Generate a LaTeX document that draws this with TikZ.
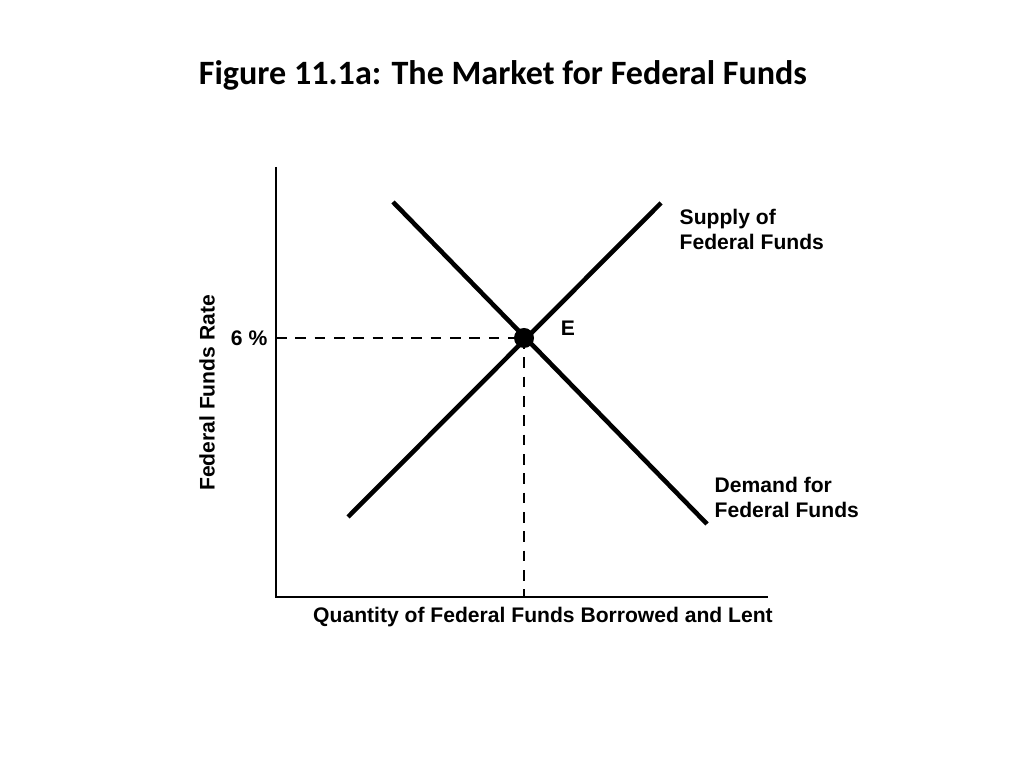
\documentclass[tikz,border=0pt]{standalone}
\usepackage{fontspec}
\setmainfont{Liberation Sans}
\newfontfamily\titlefont{Carlito}
\begin{document}
\begin{tikzpicture}[x=0.01cm,y=-0.01cm,
  curve/.style={line width=1.3pt},
  axis/.style={line width=0.7pt},
  guide/.style={line width=0.8pt,dash pattern=on 3pt off 2.5pt},
  lbl/.style={font=\fontsize{6}{7}\selectfont\bfseries,align=left,inner sep=0pt}]
\useasboundingbox (0,0) rectangle (1024,768);
\node[font=\titlefont\fontsize{9.7}{11}\selectfont\bfseries] (title) at (503,75) {Figure 11.1a: The Market for Federal Funds};
\coordinate (o) at (276,597);
\coordinate (ytop) at (276,167);
\coordinate (xend) at (768,597);
\draw[axis] (ytop) -- (o) -- (xend);
\coordinate (s1) at (348,517); \coordinate (s2) at (661,203);
\coordinate (d1) at (393,202); \coordinate (d2) at (707,524);
\draw[curve] (s1) -- (s2);
\draw[curve] (d1) -- (d2);
\coordinate (ya) at (276,338); \coordinate (xa) at (524,597);
\node[circle,fill,inner sep=0pt,minimum size=0.2cm] (E) at (524,338) {};
\draw[guide] (ya) -- (E.center);
\draw[guide] (E.center) -- (xa);
\node[lbl] (elab) at (568,328) {E};
\node[lbl,anchor=east] (six) at (268,338) {6 \%};
\node[lbl,anchor=north west] (sup) at (679,209) {Supply of\\Federal Funds};
\node[lbl,anchor=north west] (dem) at (714,477) {Demand for\\Federal Funds};
\node[lbl] (xl) at (543,617) {Quantity of Federal Funds Borrowed and Lent};
\node[lbl,rotate=90] (yl) at (207,393) {Federal Funds Rate};
\end{tikzpicture}
\end{document}
